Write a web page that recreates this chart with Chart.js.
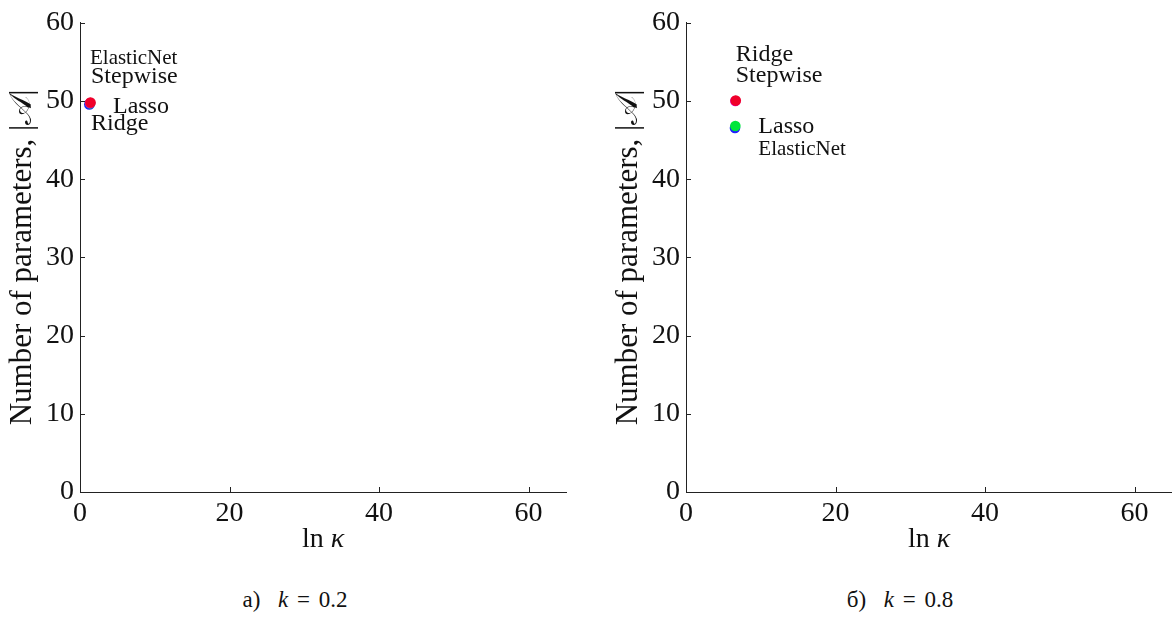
<!DOCTYPE html>
<html><head><meta charset="utf-8">
<script src="https://cdn.jsdelivr.net/npm/chart.js@4/dist/chart.umd.min.js"></script>
<style>
html,body{margin:0;padding:0;background:#fff;}
body{width:1172px;height:618px;position:relative;overflow:hidden;font-family:'Liberation Serif',serif;}
.pane{position:absolute;top:0;height:560px;}
.cap{position:absolute;top:587px;font-size:23px;color:#111;white-space:nowrap;transform:translateX(-50%);word-spacing:3px;font-family:'Liberation Serif',serif;}
</style></head>
<body>
<div class="pane" style="left:0;width:606px;"><canvas id="cA"></canvas></div>
<div class="pane" style="left:606px;width:566px;"><canvas id="cB"></canvas></div>
<div class="cap" style="left:295px;">а)&nbsp; <i>k</i> = 0.2</div>
<div class="cap" style="left:900px;">б)&nbsp; <i>k</i> = 0.8</div>
<script>
// ---- data ----
const methods = ['ElasticNet', 'Lasso', 'Ridge', 'Stepwise'];
const lnKappaA = [1.25, 1.35, 1.35, 1.40];
const paramsA  = [49.55, 49.7, 49.75, 49.8];
const lnKappaB = [6.55, 6.60, 6.60, 6.65];
const paramsB  = [46.55, 46.8, 50.0, 50.05];
const xTicks = [0, 20, 40, 60];
const yTicks = [0, 10, 20, 30, 40, 50, 60];
const colors = ['#1f1fff', '#00e63c', '#e000c8', '#f0002a'];

const SERIF = "'Liberation Serif', 'DejaVu Serif', serif";

const innerTicks = {
  id: 'innerTicks',
  afterDraw(chart) {
    const ctx = chart.ctx, a = chart.chartArea;
    const xs = chart.scales.x, ys = chart.scales.y;
    ctx.save();
    ctx.strokeStyle = '#222'; ctx.lineWidth = 1;
    ctx.beginPath();
    xTicks.forEach(v => { const p = Math.round(xs.getPixelForValue(v)) + 0.5; ctx.moveTo(p, a.bottom); ctx.lineTo(p, a.bottom - 5); });
    yTicks.forEach(v => { const p = Math.round(ys.getPixelForValue(v)) + 0.5; ctx.moveTo(a.left, p); ctx.lineTo(a.left + 5, p); });
    ctx.stroke();
    // x title: ln κ
    const cx = (xs.left + xs.right) / 2, cy = 540;
    ctx.fillStyle = '#111'; ctx.textBaseline = 'middle';
    ctx.font = '28px ' + SERIF;
    const w1 = ctx.measureText('ln ').width;
    ctx.font = 'italic 28px ' + SERIF;
    const w2 = ctx.measureText('κ').width;
    const x0 = cx - (w1 + w2) / 2;
    ctx.font = '28px ' + SERIF; ctx.textAlign = 'left';
    ctx.fillText('ln ', x0, cy);
    ctx.font = 'italic 28px ' + SERIF;
    ctx.fillText('κ', x0 + w1, cy);
    ctx.restore();
  }
};

const pointLabels = {
  id: 'pointLabels',
  afterDatasetsDraw(chart, args, opts) {
    const ctx = chart.ctx;
    ctx.save();
    ctx.fillStyle = '#111'; ctx.textAlign = 'left'; ctx.textBaseline = 'alphabetic';
    (opts.items || []).forEach(it => {
      const el = chart.getDatasetMeta(it.anchor).data[0];
      ctx.font = it.size + 'px ' + SERIF;
      ctx.fillText(it.text, el.x + it.dx, el.y + it.dy);
    });
    ctx.restore();
  }
};

function makeChart(id, xs, ys, padRight, labels) {
  const datasets = methods.map((m, i) => ({
    label: m,
    data: [{x: xs[i], y: ys[i]}],
    backgroundColor: colors[i],
    borderColor: colors[i],
    borderWidth: 0,
    pointRadius: 5.3,
    order: methods.length - i
  }));
  return new Chart(document.getElementById(id), {
    type: 'scatter',
    data: { datasets },
    plugins: [innerTicks, pointLabels],
    options: {
      responsive: true, maintainAspectRatio: false, animation: false,
      layout: { autoPadding: false, padding: { top: 19, right: padRight, left: 0, bottom: 0 } },
      plugins: { legend: { display: false }, tooltip: { enabled: false }, pointLabels: { items: labels } },
      scales: {
        x: {
          type: 'linear', min: 0, max: 65,
          afterBuildTicks: s => { s.ticks = xTicks.map(v => ({ value: v })); },
          afterFit: s => { s.height = 68; },
          grid: { display: false, drawTicks: false },
          border: { display: true, color: '#222', width: 1 },
          ticks: { color: '#111', padding: 5, font: { family: SERIF, size: 28 } }
        },
        y: {
          type: 'linear', min: 0, max: 60,
          afterBuildTicks: s => { s.ticks = yTicks.map(v => ({ value: v })); },
          afterFit: s => { s.width = 80; },
          grid: { display: false, drawTicks: false },
          border: { display: true, color: '#222', width: 1 },
          ticks: { color: '#111', padding: 6, font: { family: SERIF, size: 28 } },
          title: { display: true, text: 'Number of parameters, |𝒜|', color: '#111', padding: { top: 4, bottom: 0 }, font: { family: SERIF, size: 31 } }
        }
      }
    }
  });
}

makeChart('cA', lnKappaA, paramsA, 40, [
  { text: 'ElasticNet', anchor: 3, dx: -0.5, dy: -39, size: 21 },
  { text: 'Stepwise',   anchor: 3, dx: 0.5,  dy: -19.5, size: 24 },
  { text: 'Lasso',      anchor: 3, dx: 22.5, dy: 10.5, size: 24 },
  { text: 'Ridge',      anchor: 3, dx: 0.5,  dy: 27, size: 24 }
]);
makeChart('cB', lnKappaB, paramsB, 0, [
  { text: 'Ridge',      anchor: 3, dx: 0,  dy: -40, size: 24 },
  { text: 'Stepwise',   anchor: 3, dx: 0,  dy: -18.5, size: 24 },
  { text: 'Lasso',      anchor: 1, dx: 23, dy: 7, size: 24 },
  { text: 'ElasticNet', anchor: 1, dx: 23, dy: 28.5, size: 21 }
]);
</script>
</body></html>
